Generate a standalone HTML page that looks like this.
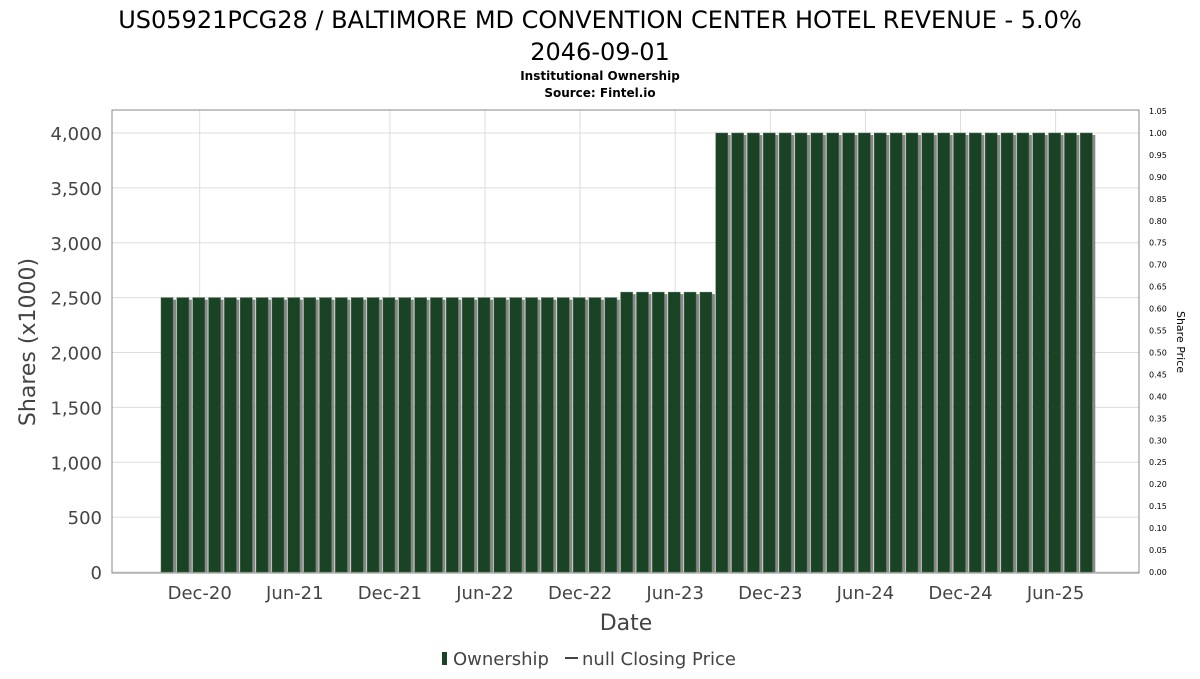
<!DOCTYPE html>
<html><head><meta charset="utf-8"><style>
body{margin:0;background:#fff;font-family:"DejaVu Sans","Liberation Sans",sans-serif;}
</style></head><body>
<svg id="chart" width="1200" height="675" xmlns="http://www.w3.org/2000/svg" font-family="DejaVu Sans, Liberation Sans, sans-serif">
<text x="600" y="28" font-size="24" text-anchor="middle" fill="#000">US05921PCG28 / BALTIMORE MD CONVENTION CENTER HOTEL REVENUE - 5.0%</text>
<text x="600" y="60" font-size="24" text-anchor="middle" fill="#000">2046-09-01</text>
<text x="600" y="80" font-size="12" font-weight="bold" text-anchor="middle">Institutional Ownership</text>
<text x="600" y="97" font-size="12" font-weight="bold" text-anchor="middle">Source: Fintel.io</text>
<g id="grid"></g>
<g id="bars"></g>
<rect x="112" y="110" width="1027" height="463" fill="none" stroke="#888" stroke-width="1"/>
<g id="axes"></g>
<text transform="translate(35,342) rotate(-90)" font-size="22" text-anchor="middle" fill="#444">Shares (x1000)</text>
<text transform="translate(1177,342) rotate(90)" font-size="11" text-anchor="middle">Share Price</text>
<text x="626" y="630" font-size="22" text-anchor="middle" fill="#444">Date</text>
<g>
<rect x="442" y="652" width="5" height="13" fill="#1a4325"/>
<text x="453" y="665" font-size="18" fill="#444">Ownership</text>
<line x1="565" y1="658" x2="578" y2="658" stroke="#444" stroke-width="2"/>
<text x="582" y="665" font-size="18" fill="#444">null Closing Price</text>
</g>
</svg>
<script>
const counts = [29, 6, 24];
const levels = [2500, 2550, 4000];
const yTicks = [0,500,1000,1500,2000,2500,3000,3500,4000];
const xLabels = ["Dec-20","Jun-21","Dec-21","Jun-22","Dec-22","Jun-23","Dec-23","Jun-24","Dec-24","Jun-25"];
const xLabelIdx = [2,8,14,20,26,32,38,44,50,56];
const priceTicks = [];
for(let k=0;k<=21;k++) priceTicks.push(k*0.05);
const values = [];
counts.forEach((c,j)=>{for(let k=0;k<c;k++) values.push(levels[j]);});

const NS="http://www.w3.org/2000/svg";
const y0=572, yScale=(572-133)/4000;
const Y=v=>y0-v*yScale;
const X=i=>168+i*15.85;
const Y2=p=>572-p*(572-111)/1.05;
function mk(tag,attrs,parent){const e=document.createElementNS(NS,tag);for(const k in attrs)e.setAttribute(k,attrs[k]);document.getElementById(parent).appendChild(e);return e;}
yTicks.forEach(t=>{
  const g=mk('line',{x1:112,x2:1139,y1:Y(t),y2:Y(t),stroke:'#ddd'},'grid');
  
  
  const l=mk('text',{x:102,y:Y(t)+7,'font-size':18,'text-anchor':'end',fill:'#444'},'axes');
  l.textContent=t.toLocaleString('en-US');
  
  
});
xLabels.forEach((s,i)=>{
  const x=X(xLabelIdx[i]);
  const g=mk('line',{x1:x,x2:x,y1:110,y2:573,stroke:'#ddd'},'grid');
  
  
  const l=mk('text',{x:x,y:599,'font-size':18,'text-anchor':'middle',fill:'#444'},'axes');
  l.textContent=s;
  
  
});
priceTicks.forEach(p=>{
  const l=mk('text',{x:1149,y:Y2(p)+3,'font-size':8,fill:'#000'},'axes');
  l.textContent=p.toFixed(2);
  
  
});
values.forEach((v,i)=>{
  const x=X(i)-7;
  const s=mk('rect',{x:x+3,y:Y(v)+2,width:12,height:y0-Y(v)-2,fill:'#888'},'bars');
  
  
  const b=mk('rect',{x:x,y:Y(v),width:12,height:y0-Y(v),fill:'#1a4325',stroke:'#4e6e55','stroke-width':0.5},'bars');
  
  
});
</script>
</body></html>
